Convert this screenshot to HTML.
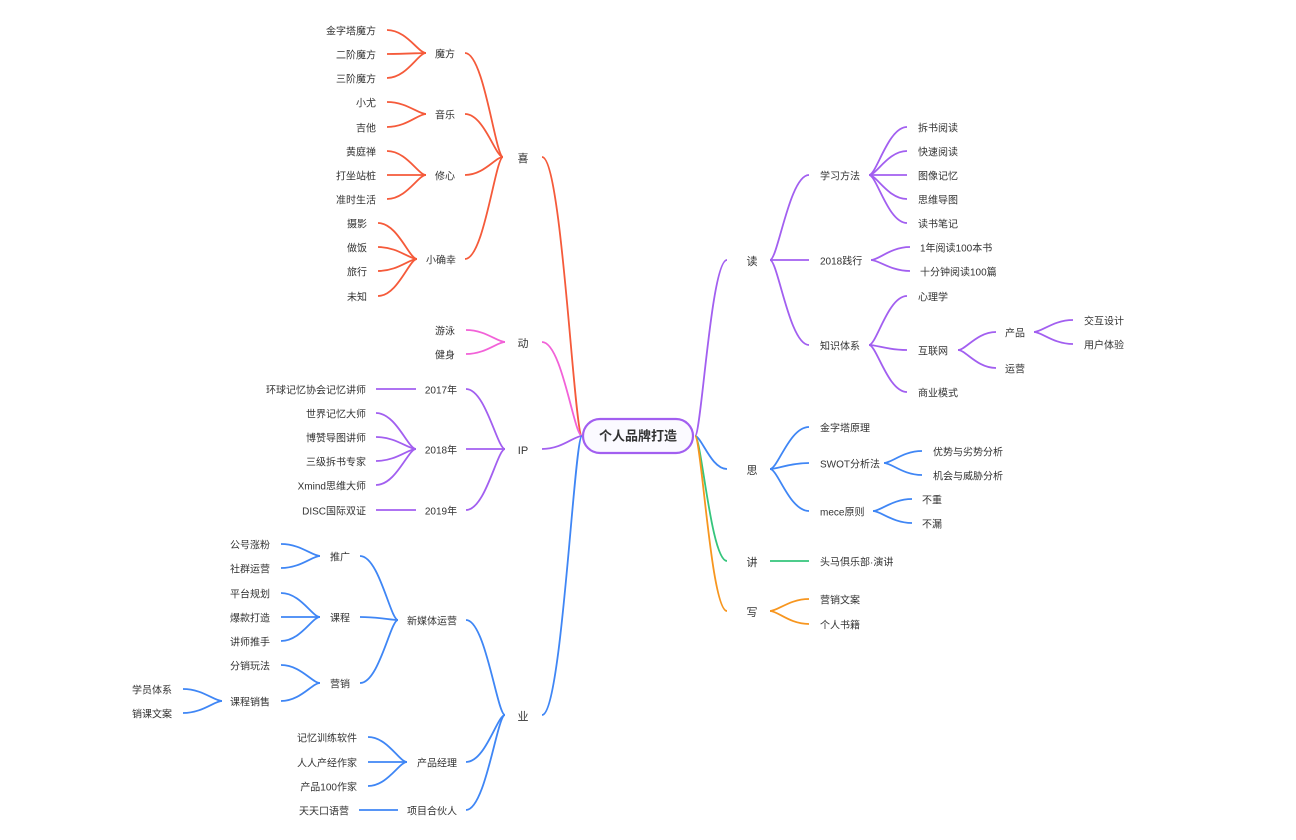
<!DOCTYPE html>
<html><head><meta charset="utf-8"><style>
html,body{margin:0;padding:0;background:#fff;width:1296px;height:840px;overflow:hidden}
svg text{font-family:"Liberation Sans","Noto Sans CJK SC",sans-serif;fill:#333;font-size:10px;dominant-baseline:central}
</style></head><body>
<svg id="s" width="1296" height="840" xmlns="http://www.w3.org/2000/svg"></svg>
<script>
const s=document.getElementById('s');let h='';
const R='#f55a3a',P='#f262d8',V='#a25ff0',B='#3f86f5',G='#35c57c',O='#f7961f';
function L(x1,y1,x2,y2,c){const m=(x1+x2)/2;h+=`<path d="M${x1} ${y1}C${m} ${y1} ${x2+(x1-x2)*0.2} ${y2} ${x2} ${y2}" fill="none" stroke="${c}" stroke-width="1.8"/>`;}
function F(jx,jy,cx,ys,c){ys.forEach(y=>{L(cx,y,jx,jy,c)});}
function T(t,x,y,a,sz,w){h+=`<text x="${x}" y="${y+2}" text-anchor="${a||'middle'}" style="font-size:${sz||10}px;${w?'font-weight:bold':''}">${t}</text>`;}
h+=`<rect x="583" y="419" width="110" height="34" rx="17" fill="#fbfaff" stroke="${V}" stroke-width="2.2"/>`;
T('个人品牌打造',638,434,'middle',13,1);
L(542,157,582,436,R);L(542,342,582,436,P);L(542,449,582,436,V);L(542,715,582,436,B);
L(727,260,695,436,V);L(727,469,695,436,B);L(727,561,695,436,G);L(727,611,695,436,O);
T('喜',523,157,'middle',11);
F(503,157,465,[53,114,175,259],R);
T('魔方',445,53);T('音乐',445,114);T('修心',445,175);T('小确幸',441,259);
F(426,53,387,[30,54,78],R);F(426,114,387,[102,127],R);F(426,175,387,[151,175,199],R);F(417,259,378,[223,247,271,296],R);
[['金字塔魔方',30],['二阶魔方',54],['三阶魔方',78],['小尤',102],['吉他',127],['黄庭禅',151],['打坐站桩',175],['准时生活',199]].forEach(a=>T(a[0],376,a[1],'end'));
[['摄影',223],['做饭',247],['旅行',271],['未知',296]].forEach(a=>T(a[0],367,a[1],'end'));
T('动',523,342,'middle',11);F(505,342,466,[330,354],P);T('游泳',455,330,'end');T('健身',455,354,'end');
T('IP',523,449,'middle',11);F(505,449,466,[389,449,510],V);
T('2017年',441,389);T('2018年',441,449);T('2019年',441,510);
L(376,389,416,389,V);F(416,449,376,[413,437,461,485],V);L(376,510,416,510,V);
[['环球记忆协会记忆讲师',389],['世界记忆大师',413],['博赞导图讲师',437],['三级拆书专家',461],['Xmind思维大师',485],['DISC国际双证',510]].forEach(a=>T(a[0],366,a[1],'end'));
T('业',523,715,'middle',11);F(505,715,466,[620,762,810],B);
T('新媒体运营',432,620);T('产品经理',437,762);T('项目合伙人',432,810);
F(398,620,360,[556,617,683],B);T('推广',340,556);T('课程',340,617);T('营销',340,683);
F(320,556,281,[544,568],B);F(320,617,281,[593,617,641],B);F(320,683,281,[665,701],B);
[['公号涨粉',544],['社群运营',568],['平台规划',593],['爆款打造',617],['讲师推手',641],['分销玩法',665],['课程销售',701]].forEach(a=>T(a[0],270,a[1],'end'));
F(222,701,183,[689,713],B);T('学员体系',172,689,'end');T('销课文案',172,713,'end');
F(407,762,368,[737,762,786],B);
[['记忆训练软件',737],['人人产经作家',762],['产品100作家',786]].forEach(a=>T(a[0],357,a[1],'end'));
L(359,810,398,810,B);T('天天口语营',349,810,'end');
T('读',752,260,'middle',11);F(770,260,809,[175,260,345],V);
T('学习方法',820,175,'start');T('2018践行',820,260,'start');T('知识体系',820,345,'start');
F(869,175,907,[127,151,175,199,223],V);
[['拆书阅读',127],['快速阅读',151],['图像记忆',175],['思维导图',199],['读书笔记',223]].forEach(a=>T(a[0],918,a[1],'start'));
F(871,260,910,[247,271],V);T('1年阅读100本书',920,247,'start');T('十分钟阅读100篇',920,271,'start');
F(869,345,907,[296,350,392],V);T('心理学',918,296,'start');T('互联网',918,350,'start');T('商业模式',918,392,'start');
F(958,350,996,[332,368],V);T('产品',1005,332,'start');T('运营',1005,368,'start');
F(1034,332,1073,[320,344],V);T('交互设计',1084,320,'start');T('用户体验',1084,344,'start');
T('思',752,469,'middle',11);F(770,469,809,[427,463,511],B);
T('金字塔原理',820,427,'start');T('SWOT分析法',820,463,'start');T('mece原则',820,511,'start');
F(884,463,922,[451,475],B);T('优势与劣势分析',933,451,'start');T('机会与威胁分析',933,475,'start');
F(873,511,912,[499,523],B);T('不重',922,499,'start');T('不漏',922,523,'start');
T('讲',752,561,'middle',11);L(770,561,809,561,G);T('头马俱乐部·演讲',820,561,'start');
T('写',752,611,'middle',11);F(770,611,809,[599,624],O);T('营销文案',820,599,'start');T('个人书籍',820,624,'start');
s.innerHTML=h;
</script>
</body></html>
